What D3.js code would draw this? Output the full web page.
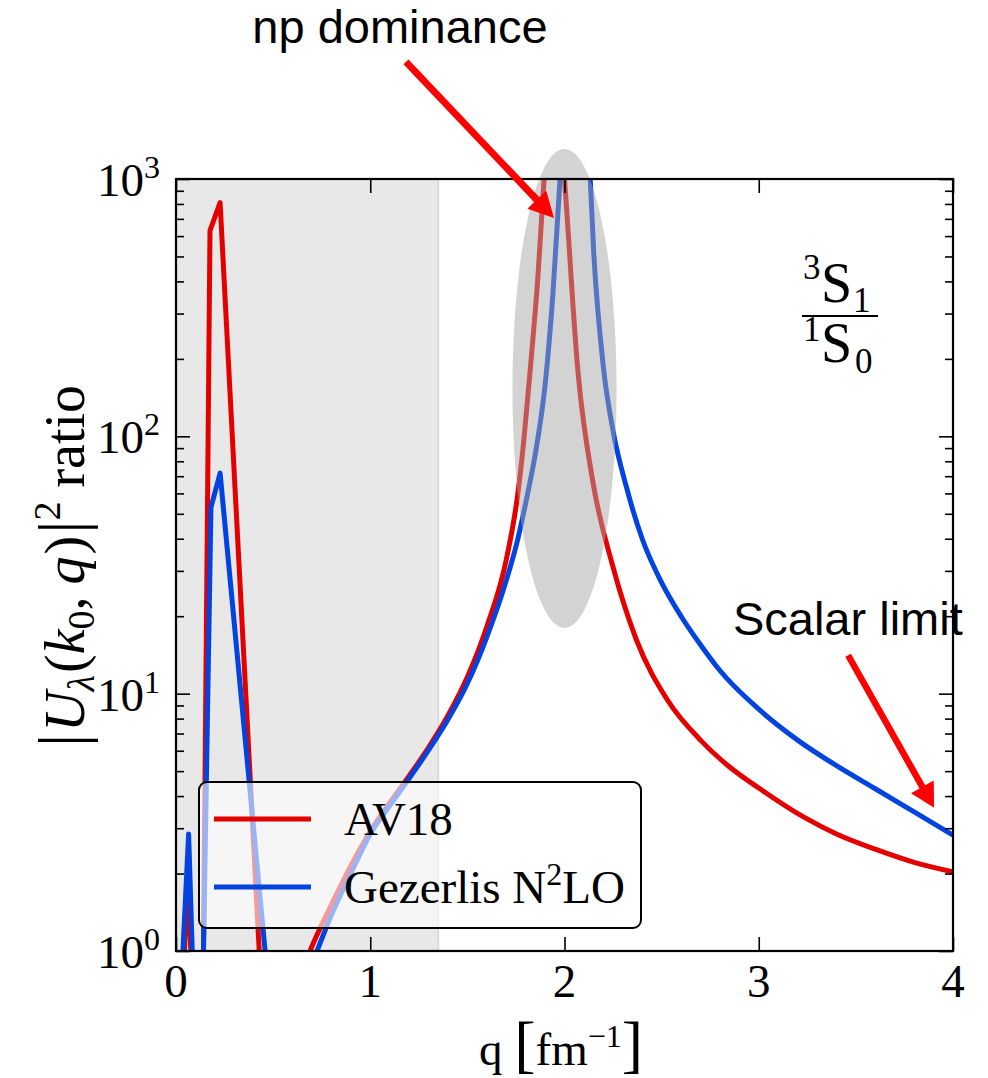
<!DOCTYPE html>
<html>
<head>
<meta charset="utf-8">
<script src="https://cdn.jsdelivr.net/npm/d3@7"></script>
<style>
  html, body { margin: 0; padding: 0; background: #fff; }
  svg { display: block; }
</style>
</head>
<body>
<svg id="chart" width="988" height="1078"></svg>
<script>
// ---- data -------------------------------------------------------------
// AV18 ratio |U(k0,q)|^2 (3S1 / 1S0)
const av18Q = [0.02, 0.06, 0.1, 0.135, 0.175, 0.227, 0.43, 0.47,
  0.65, 0.69, 0.8, 0.9, 1.0, 1.1, 1.2, 1.3, 1.4, 1.5, 1.6, 1.7, 1.76, 1.79, 1.822, 1.864, 1.895, 1.95,
  2.0, 2.07, 2.147, 2.25, 2.37, 2.53, 2.7, 2.85, 3.0, 3.23, 3.4, 3.61, 3.8, 4.0];
const av18V = [0.4, 1.9, 0.4, 0.3, 630, 810, 0.95, 0.2,
  0.83, 1.0, 1.51, 2.14, 2.92, 3.76, 4.79, 6.17, 8.22, 11.6, 18.2, 33.1, 60, 95.5, 176, 427, 1000, 3000,
  1000, 176, 66, 31, 16.2, 9.45, 6.6, 5.19, 4.3, 3.32, 2.85, 2.47, 2.21, 2.03];

// Gezerlis N2LO ratio
const gezQ = [0.01, 0.065, 0.1, 0.13, 0.18, 0.227, 0.46, 0.5,
  0.68, 0.726, 0.8, 0.9, 1.0, 1.1, 1.2, 1.3, 1.4, 1.5, 1.6, 1.7, 1.76, 1.8, 1.858, 1.9, 1.94, 1.977, 2.05,
  2.12, 2.15, 2.2, 2.25, 2.32, 2.4, 2.5, 2.6, 2.7, 2.8, 3.0, 3.2, 3.4, 3.6, 3.8, 4.0];
const gezV = [0.4, 2.85, 0.4, 0.3, 53, 72, 0.98, 0.3,
  0.81, 1.0, 1.38, 2.0, 2.85, 3.67, 4.68, 6.03, 7.94, 10.96, 16.6, 27.5, 40, 55, 93, 158, 355, 1000, 5000,
  1585, 525, 186, 105, 63, 40, 27, 20, 15.5, 12.3, 8.7, 6.6, 5.25, 4.27, 3.47, 2.82];

const seriesNames = ["AV18", "Gezerlis N\u00B2LO"];
const xTickValues = [0, 1, 2, 3, 4];
const yDecades = [0, 1, 2, 3];

// shaded band (q range) and highlighted peak region (q range, value range)
const bandQ = [0, 1.35];
const peakQ = [1.732, 2.268];
const peakV = [18, 1309];

// annotations: arrow start -> tip in (q, value)
const npArrow = { from: [1.184, 2852], to: [1.946, 706] };
const npText = { q: 1.153, v: 3381, label: "np dominance" };
const scalarArrow = { from: [3.46, 14.1], to: [3.903, 3.6] };
const scalarText = { q: 2.867, v: 16.9, label: "Scalar limit" };

// the low-q oscillation is drawn with straight segments, the rest smoothly
const qSplit = 0.55;

// ---- layout ------------------------------------------------------------
const L = 176, R = 953, T = 179, B = 951;
const RED = "#e50000", BLUE = "#0343df";
const SERIF = "'Liberation Serif', 'Times New Roman', serif";
const SANS = "'Liberation Sans', Arial, sans-serif";

const svg = d3.select("#chart");
const x = d3.scaleLinear().domain([0, 4]).range([L, R]);
const y = d3.scaleLog().domain([1, 1000]).range([B, T]);

svg.append("defs").append("clipPath").attr("id", "plotclip")
  .append("rect").attr("x", L).attr("y", T).attr("width", R - L).attr("height", B - T);

// shaded low-momentum band
svg.append("rect")
  .attr("x", x(bandQ[0])).attr("y", T)
  .attr("width", x(bandQ[1]) - x(bandQ[0])).attr("height", B - T)
  .attr("fill", "#e8e8e8");
svg.append("line")
  .attr("x1", x(bandQ[1])).attr("x2", x(bandQ[1]))
  .attr("y1", T).attr("y2", B)
  .attr("stroke", "#d9d9d9").attr("stroke-width", 2);

// curves
const lineLin = d3.line().x(d => x(d[0])).y(d => y(d[1]));
const lineSmooth = d3.line().x(d => x(d[0])).y(d => y(d[1])).curve(d3.curveMonotoneX);
const plot = svg.append("g").attr("clip-path", "url(#plotclip)");
function drawSeries(qs, vs, color) {
  const pts = d3.zip(qs, vs);
  const low = pts.filter(p => p[0] <= qSplit);
  const high = pts.filter(p => p[0] > qSplit);
  [[low, lineLin], [high, lineSmooth]].forEach(([d, gen]) => {
    plot.append("path").datum(d).attr("d", gen)
      .attr("fill", "none").attr("stroke", color).attr("stroke-width", 5)
      .attr("stroke-linejoin", "round");
  });
}
drawSeries(av18Q, av18V, RED);
drawSeries(gezQ, gezV, BLUE);

// highlighted peak region
const ex0 = x(peakQ[0]), ex1 = x(peakQ[1]);
const ey0 = y(peakV[1]), ey1 = y(peakV[0]);
svg.append("ellipse")
  .attr("cx", (ex0 + ex1) / 2).attr("cy", (ey0 + ey1) / 2)
  .attr("rx", (ex1 - ex0) / 2).attr("ry", (ey1 - ey0) / 2)
  .attr("fill", "#a7a7a7").attr("fill-opacity", 0.5);

// legend
const lg = svg.append("g");
lg.append("rect").attr("x", 199).attr("y", 782).attr("width", 442).attr("height", 146)
  .attr("rx", 8).attr("fill", "#fff").attr("fill-opacity", 0.6)
  .attr("stroke", "#000").attr("stroke-width", 2);
[RED, BLUE].forEach((c, i) => {
  const cy = 819 + i * 68;
  lg.append("line").attr("x1", 214).attr("x2", 311).attr("y1", cy).attr("y2", cy)
    .attr("stroke", c).attr("stroke-width", 5);
});
lg.append("text").attr("x", 344).attr("y", 835)
  .attr("font-family", SERIF).attr("font-size", 47).text(seriesNames[0]);
{
  const t = lg.append("text").attr("x", 344).attr("y", 903)
    .attr("font-family", SERIF).attr("font-size", 47);
  t.append("tspan").text("Gezerlis N");
  t.append("tspan").attr("font-size", 32).attr("dy", -18).text("2");
  t.append("tspan").attr("dy", 18).text("LO");
}

// axes: inward ticks on all four sides
function styleAxis(g) {
  g.select(".domain").remove();
  g.selectAll(".tick line").attr("stroke", "#000").attr("stroke-width", 1.6);
  g.selectAll(".tick text").remove();
}
const minorVals = [];
for (let d = 0; d < 3; d++) for (let k = 2; k <= 9; k++) minorVals.push(k * Math.pow(10, d));

svg.append("g").attr("transform", `translate(0,${B})`)
  .call(d3.axisBottom(x).tickValues(xTickValues).tickSize(-14)).call(styleAxis);
svg.append("g").attr("transform", `translate(0,${T})`)
  .call(d3.axisTop(x).tickValues(xTickValues).tickSize(-14)).call(styleAxis);
svg.append("g").attr("transform", `translate(${L},0)`)
  .call(d3.axisLeft(y).tickValues(yDecades.map(d => Math.pow(10, d))).tickSize(-14)).call(styleAxis);
svg.append("g").attr("transform", `translate(${L},0)`)
  .call(d3.axisLeft(y).tickValues(minorVals).tickSize(-8)).call(styleAxis);
svg.append("g").attr("transform", `translate(${R},0)`)
  .call(d3.axisRight(y).tickValues(yDecades.map(d => Math.pow(10, d))).tickSize(-14)).call(styleAxis);
svg.append("g").attr("transform", `translate(${R},0)`)
  .call(d3.axisRight(y).tickValues(minorVals).tickSize(-8)).call(styleAxis);

// frame
svg.append("rect").attr("x", L).attr("y", T).attr("width", R - L).attr("height", B - T)
  .attr("fill", "none").attr("stroke", "#000").attr("stroke-width", 2.2);

// tick labels
svg.append("g").selectAll("text").data(xTickValues).join("text")
  .attr("x", d => x(d)).attr("y", 997)
  .attr("text-anchor", "middle").attr("font-family", SERIF).attr("font-size", 47)
  .text(d => d);
const yl = svg.append("g").selectAll("text").data(yDecades).join("text")
  .attr("x", 160).attr("y", d => y(Math.pow(10, d)) + 17)
  .attr("text-anchor", "end").attr("font-family", SERIF).attr("font-size", 47);
yl.append("tspan").text("10");
yl.append("tspan").attr("font-size", 32).attr("dy", -18).text(d => d);

// x label
{
  const t = svg.append("text").attr("x", 561).attr("y", 1065)
    .attr("text-anchor", "middle").attr("font-family", SERIF).attr("font-size", 47);
  t.append("tspan").text("q ");
  t.append("tspan").attr("font-size", 64).text("[");
  t.append("tspan").text("fm");
  t.append("tspan").attr("font-size", 32).attr("dy", -18).text("\u22121");
  t.append("tspan").attr("font-size", 64).attr("dy", 18).text("]");
}

// y label
{
  const t = svg.append("text").attr("transform", "translate(84,566) rotate(-90)")
    .attr("text-anchor", "middle").attr("font-family", SERIF).attr("font-size", 56);
  t.append("tspan").attr("font-size", 66).text("|");
  t.append("tspan").attr("font-style", "italic").attr("dx", 2).text("U");
  t.append("tspan").attr("font-style", "italic").attr("font-size", 38).attr("dy", 10).text("\u03BB");
  t.append("tspan").attr("dy", -10).attr("dx", 2).text("(");
  t.append("tspan").attr("font-style", "italic").text("k");
  t.append("tspan").attr("font-size", 38).attr("dy", 10).text("0");
  t.append("tspan").attr("dy", -10).text(",");
  t.append("tspan").attr("font-style", "italic").attr("dx", 12).text("q");
  t.append("tspan").attr("dx", 2).text(")");
  t.append("tspan").attr("font-size", 66).attr("dx", 2).text("|");
  t.append("tspan").attr("font-size", 38).attr("dy", -24).text("2");
  t.append("tspan").attr("dy", 24).attr("dx", 14).text("ratio");
}

// partial-wave fraction 3S1 / 1S0
{
  const f = svg.append("g").attr("font-family", SERIF);
  f.append("text").attr("x", 803).attr("y", 279).attr("font-size", 35).text("3");
  f.append("text").attr("x", 821).attr("y", 302).attr("font-size", 56).text("S");
  f.append("text").attr("x", 853).attr("y", 312).attr("font-size", 35).text("1");
  f.append("line").attr("x1", 802).attr("x2", 878).attr("y1", 316).attr("y2", 316)
    .attr("stroke", "#000").attr("stroke-width", 2);
  f.append("text").attr("x", 803).attr("y", 341).attr("font-size", 35).text("1");
  f.append("text").attr("x", 821).attr("y", 362).attr("font-size", 56).text("S");
  f.append("text").attr("x", 855).attr("y", 373).attr("font-size", 35).text("0");
}

// annotation arrows
function arrow(a, shaftW, headL, headHW) {
  const x0 = x(a.from[0]), y0 = y(a.from[1]);
  const x1 = x(a.to[0]), y1 = y(a.to[1]);
  const dx = x1 - x0, dy = y1 - y0, len = Math.hypot(dx, dy);
  const ux = dx / len, uy = dy / len, nx = -uy, ny = ux;
  const bx = x1 - ux * headL, by = y1 - uy * headL;
  const s = shaftW / 2;
  const pts = [
    [x0 + nx * s, y0 + ny * s], [bx + nx * s, by + ny * s], [bx + nx * headHW, by + ny * headHW],
    [x1, y1],
    [bx - nx * headHW, by - ny * headHW], [bx - nx * s, by - ny * s], [x0 - nx * s, y0 - ny * s]
  ];
  svg.append("polygon").attr("points", pts.map(p => p.join(",")).join(" ")).attr("fill", "#ff0000");
}
arrow(npArrow, 7, 25, 13);
arrow(scalarArrow, 6.5, 24, 13);

svg.append("text").attr("x", x(npText.q)).attr("y", y(npText.v))
  .attr("text-anchor", "middle").attr("font-family", SANS).attr("font-size", 47)
  .text(npText.label);
svg.append("text").attr("x", x(scalarText.q)).attr("y", y(scalarText.v))
  .attr("font-family", SANS).attr("font-size", 47)
  .text(scalarText.label);
</script>
</body>
</html>
